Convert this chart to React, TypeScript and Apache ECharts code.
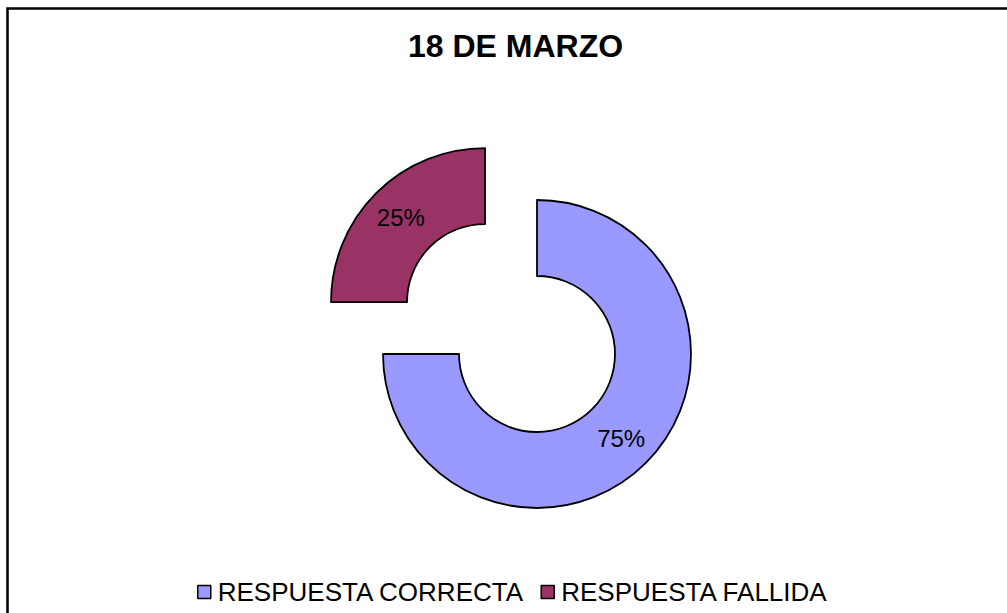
import React, { useEffect, useRef } from "react";
import * as echarts from "echarts";

const TITLE = "18 DE MARZO";
const categories = ["RESPUESTA CORRECTA", "RESPUESTA FALLIDA"];
const values = [75, 25];
const colors = ["#9999FF", "#993366"];
const exploded = [false, true];

export default function App() {
  const ref = useRef<HTMLDivElement>(null);
  useEffect(() => {
    if (!ref.current) return;
    const chart = echarts.init(ref.current, null, { renderer: "svg" });
    const font = "'Liberation Sans', Arial, sans-serif";
    chart.setOption({
      animation: false,
      backgroundColor: "#ffffff",
      title: {
        text: TITLE,
        left: 408,
        top: 30,
        padding: 0,
        textStyle: { fontFamily: font, fontSize: 32, fontWeight: "bold", color: "#000" },
      },
      legend: {
        left: 197,
        top: 579,
        padding: 0,
        itemWidth: 13,
        itemHeight: 13,
        itemGap: 16,
        icon: "rect",
        data: categories,
        textStyle: { fontFamily: font, fontSize: 26, color: "#000", padding: [0, 0, 0, 2] },
        itemStyle: { borderColor: "#000", borderWidth: 1.5 },
      },
      graphic: [
        {
          type: "rect",
          shape: { x: 7.5, y: 8.5, width: 1100, height: 700 },
          style: { fill: "none", stroke: "#000", lineWidth: 2.5 },
          silent: true,
        },
      ],
      series: [
        {
          type: "pie",
          center: [537, 354],
          radius: [78, 154],
          startAngle: 90,
          clockwise: true,
          selectedMode: "multiple",
          selectedOffset: 73.5,
          emphasis: { disabled: true },
          itemStyle: { borderColor: "#000", borderWidth: 1.8 },
          label: {
            show: true,
            position: "inside",
            formatter: "{d}%",
            fontFamily: font,
            fontSize: 24,
            color: "#000",
          },
          labelLine: { show: false },
          data: categories.map((name, i) => ({
            name,
            value: values[i],
            selected: exploded[i],
            itemStyle: { color: colors[i] },
            select: { itemStyle: { color: colors[i], borderColor: "#000", borderWidth: 1.8 } },
          })),
        },
      ],
    });
    return () => chart.dispose();
  }, []);
  return (
    <div
      ref={ref}
      style={{ position: "fixed", left: 0, top: 0, width: 1007, height: 613 }}
    />
  );
}
